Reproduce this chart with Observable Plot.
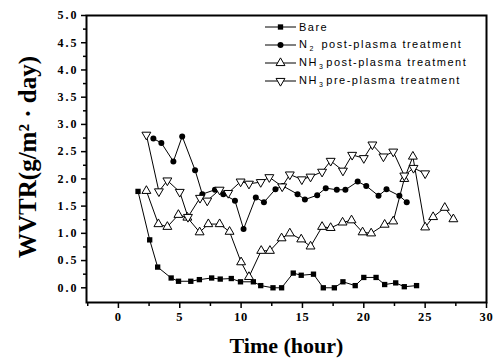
<!DOCTYPE html>
<html><head><meta charset="utf-8">
<script src="https://cdn.jsdelivr.net/npm/d3@7"></script>
<script src="https://cdn.jsdelivr.net/npm/@observablehq/plot@0.6"></script>
<style>
body{margin:0;background:#fff}
#wrap{position:relative;width:493px;height:360px}
#legend{position:absolute;left:265px;top:18px;font-family:"Liberation Sans",Arial,sans-serif;font-size:11px;letter-spacing:1.5px;color:#000}
.row{height:18px;display:flex;align-items:center;white-space:nowrap}
.row svg{margin-right:3px;flex:none;overflow:visible}
sub{font-size:7px;vertical-align:-3px;margin:0 2px 0 1px}
[aria-label="x-axis tick label"] text{letter-spacing:0.8px;font-size:12.5px}
[aria-label="y-axis tick label"] text{letter-spacing:2px;font-size:12px}
</style>
</head><body>
<div id="wrap"><div id="chart"></div><div id="legend"></div></div>
<script>
// ---- data ----
const bareHour = [1.6, 2.55, 3.2, 4.3, 4.9, 5.9, 6.6, 7.6, 8.3, 9.2, 9.95, 11.0, 11.6, 12.6, 13.3, 14.25, 14.9, 15.9, 16.7, 17.6, 18.3, 19.3, 20.0, 21.0, 21.7, 22.6, 23.3, 24.3];
const bareWVTR = [1.77, 0.88, 0.38, 0.18, 0.12, 0.12, 0.15, 0.18, 0.16, 0.17, 0.11, 0.11, 0.04, 0.0, 0.0, 0.27, 0.23, 0.25, 0.0, 0.0, 0.11, 0.04, 0.19, 0.19, 0.06, 0.09, 0.02, 0.04];

const n2Hour = [2.85, 3.5, 4.48, 5.2, 6.25, 6.84, 7.87, 8.55, 9.5, 10.2, 11.2, 11.86, 12.8, 13.4, 14.6, 15.2, 16.2, 16.9, 17.8, 18.5, 19.5, 20.2, 21.2, 21.85, 22.9, 23.5];
const n2WVTR = [2.74, 2.66, 2.32, 2.78, 2.16, 1.72, 1.80, 1.72, 1.60, 1.08, 1.66, 1.57, 1.81, 1.87, 1.72, 1.62, 1.70, 1.83, 1.80, 1.80, 1.95, 1.87, 1.69, 1.81, 1.69, 1.57];

const postHour = [2.28, 3.26, 3.99, 4.89, 5.62, 6.62, 7.33, 8.25, 9.06, 10.0, 10.64, 11.64, 12.35, 13.3, 13.97, 14.9, 15.66, 16.6, 17.3, 18.27, 19.0, 19.9, 20.6, 21.7, 22.4, 23.3, 24.0, 25.0, 25.65, 26.6, 27.3];
const postWVTR = [1.78, 1.17, 1.12, 1.34, 1.29, 1.02, 1.17, 1.17, 1.03, 0.47, 0.2, 0.68, 0.68, 0.91, 1.0, 0.89, 0.76, 1.12, 1.10, 1.20, 1.24, 1.02, 1.0, 1.16, 1.22, 2.0, 2.41, 1.11, 1.30, 1.47, 1.26];

const preHour = [2.28, 3.3, 3.99, 5.0, 5.67, 6.65, 7.24, 8.25, 8.95, 9.96, 10.64, 11.6, 12.3, 13.35, 13.97, 14.95, 15.66, 16.6, 17.3, 18.3, 19.05, 20.0, 20.7, 21.6, 22.4, 23.3, 24.05, 25.0];
const preWVTR = [2.81, 1.77, 1.97, 1.76, 1.30, 1.65, 1.60, 1.80, 1.74, 1.95, 1.91, 1.94, 2.03, 1.86, 2.08, 1.99, 2.04, 2.13, 2.33, 2.15, 2.44, 2.38, 2.63, 2.41, 2.50, 2.06, 2.2, 2.1];

const seriesLabels = ["Bare", "N<sub>2</sub> post-plasma treatment", "NH<sub>3</sub>post-plasma treatment", "NH<sub>3</sub>pre-plasma treatment"];
const xTicks = [0, 5, 10, 15, 20, 25, 30];
const yTicks = [0, 0.5, 1, 1.5, 2, 2.5, 3, 3.5, 4, 4.5, 5];
const xTitle = "Time (hour)";
const yTitle = "WVTR(g/m² · day)";

// ---- styling ----
const sqrt3 = Math.sqrt(3);
const triangleDown = {draw(ctx, size){ const y = -Math.sqrt(size/(sqrt3*3)); ctx.moveTo(0, -y*2); ctx.lineTo(-sqrt3*y, y); ctx.lineTo(sqrt3*y, y); ctx.closePath(); }};
const styles = [
  {symbol: "square", fill: "black", stroke: "none", r: 3},
  {symbol: "circle", fill: "black", stroke: "none", r: 3},
  {symbol: "triangle", fill: "white", stroke: "black", r: 3.3},
  {symbol: triangleDown, fill: "white", stroke: "black", r: 3.3}
];
const xs = [bareHour, n2Hour, postHour, preHour];
const ys = [bareWVTR, n2WVTR, postWVTR, preWVTR];
const series = xs.map((hx, i) => hx.map((h, j) => ({hour: h, wvtr: ys[i][j], s: i})));

const xMinor = d3.range(-2.5, 30, 5);
const yMinor = d3.range(0.25, 5, 0.5);

const marks = [
  Plot.axisX({ticks: xMinor, tickSize: 4, fill: "none", label: null, strokeWidth: 1.5}),
  Plot.axisX({ticks: xTicks, tickSize: 6, tickPadding: 4, label: null, strokeWidth: 1.5}),
  Plot.axisY({ticks: yMinor, tickSize: 3, fill: "none", label: null, strokeWidth: 1.5}),
  Plot.axisY({ticks: yTicks, tickSize: 5, tickPadding: 3, tickFormat: d3.format(".1f"), label: null, strokeWidth: 1.5}),
  Plot.frame({strokeWidth: 2})
];
series.forEach(d => marks.push(Plot.line(d, {x: "hour", y: "wvtr", stroke: "black", strokeWidth: 1})));
series.forEach((d, i) => marks.push(Plot.dot(d, {x: "hour", y: "wvtr", symbol: styles[i].symbol, fill: styles[i].fill, stroke: styles[i].stroke, strokeWidth: 1, r: styles[i].r})));
marks.push(Plot.text([xTitle], {frameAnchor: "bottom", dy: 43, fontSize: 22, lineAnchor: "middle"}));
marks.push(Plot.text([yTitle], {frameAnchor: "left", textAnchor: "middle", dx: -59, dy: -2, rotate: -90, fontSize: 25, lineAnchor: "middle"}));

const chart = Plot.plot({
  width: 493, height: 360,
  marginLeft: 86, marginRight: 7, marginTop: 15, marginBottom: 58,
  x: {domain: [-2.6, 30]},
  y: {domain: [-0.27, 5]},
  style: {fontFamily: "'Liberation Serif','Times New Roman',serif", fontWeight: "bold", fontSize: "12px", color: "black", background: "white", overflow: "visible"},
  marks
});
document.getElementById("chart").appendChild(chart);

// ---- legend ----
const legend = d3.select("#legend");
seriesLabels.forEach((lab, i) => {
  const row = legend.append("div").attr("class", "row");
  const svg = row.append("svg").attr("width", 31).attr("height", 12);
  svg.append("line").attr("x1", 0).attr("x2", 31).attr("y1", 6).attr("y2", 6).attr("stroke", "black").attr("stroke-width", 1);
  const st = styles[i];
  const sym = typeof st.symbol === "string" ? {square: d3.symbolSquare, circle: d3.symbolCircle, triangle: d3.symbolTriangle}[st.symbol] : st.symbol;
  svg.append("path").attr("transform", "translate(15.5,6)")
    .attr("d", d3.symbol(sym, Math.PI * st.r * st.r)())
    .attr("fill", st.fill).attr("stroke", st.stroke);
  row.append("span").html(lab);
});
</script>
</body></html>
